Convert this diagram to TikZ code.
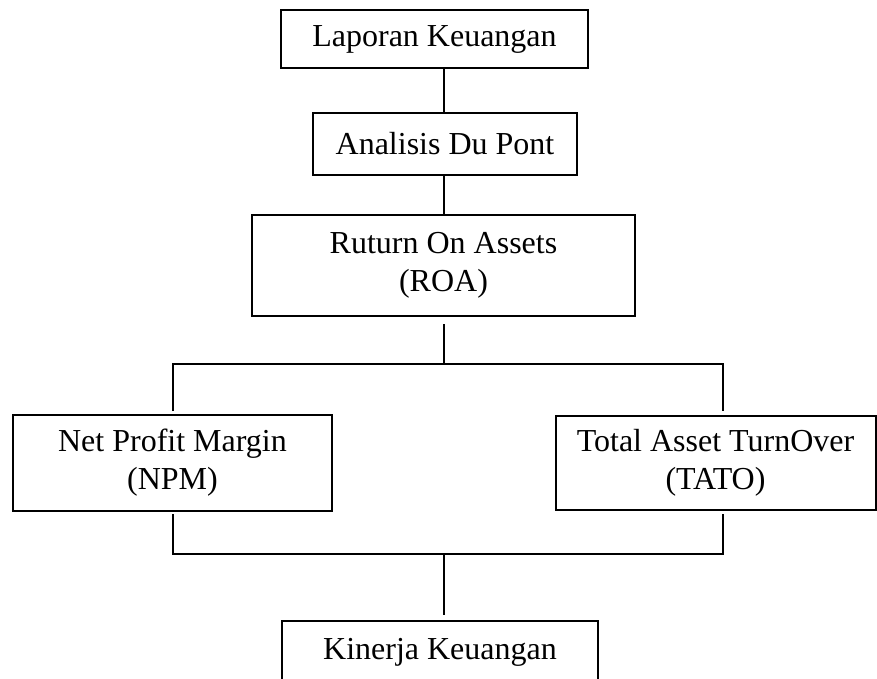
\documentclass[tikz,border=0pt]{standalone}
\usepackage{fontspec}
\setmainfont{Liberation Serif}
\begin{document}
\begin{tikzpicture}[x=1pt,y=-1pt,
  box/.style={draw=black,line width=2pt,rectangle,inner sep=0pt,align=center,
    font=\fontsize{32}{38}\selectfont},
  conn/.style={draw=black,line width=1.7pt}]
\clip (0,0) rectangle (877,679);
\fill[white] (0,0) rectangle (877,679);
\node[box,minimum width=307pt,minimum height=58pt] (lap) at (434.5,39) {Laporan Keuangan};
\node[box,minimum width=264pt,minimum height=62pt] (ana) at (445,144) {Analisis Du Pont};
\node[box,minimum width=383pt,minimum height=101pt] (roa) at (443.5,265.5) {Ruturn On Assets\\(ROA)};
\node[box,minimum width=319pt,minimum height=96pt] (npm) at (172.5,463) {Net Profit Margin\\(NPM)};
\node[box,minimum width=320pt,minimum height=94pt] (tato) at (715.5,463) {Total Asset TurnOver\\(TATO)};
\node[box,minimum width=316pt,text height=30pt,text depth=50pt,inner ysep=8pt,anchor=north] (kin) at (440,620) {Kinerja Keuangan};
\coordinate (r1) at (444,324);
\coordinate (h1) at (444,364);
\coordinate (nt) at (173,411);
\coordinate (tt) at (723,411);
\coordinate (nb) at (173,514);
\coordinate (tb) at (723,514);
\coordinate (h2) at (444,554);
\coordinate (k1) at (444,615);
\draw[conn] (lap.south -| r1) -- (ana.north -| r1);
\draw[conn] (ana.south -| r1) -- (roa.north -| r1);
\draw[conn] (r1) -- (h1);
\draw[conn] (nt) -- (nt |- h1) -- (tt |- h1) -- (tt);
\draw[conn] (nb) -- (nb |- h2) -- (tb |- h2) -- (tb);
\draw[conn] (h2) -- (k1);
\end{tikzpicture}
\end{document}
